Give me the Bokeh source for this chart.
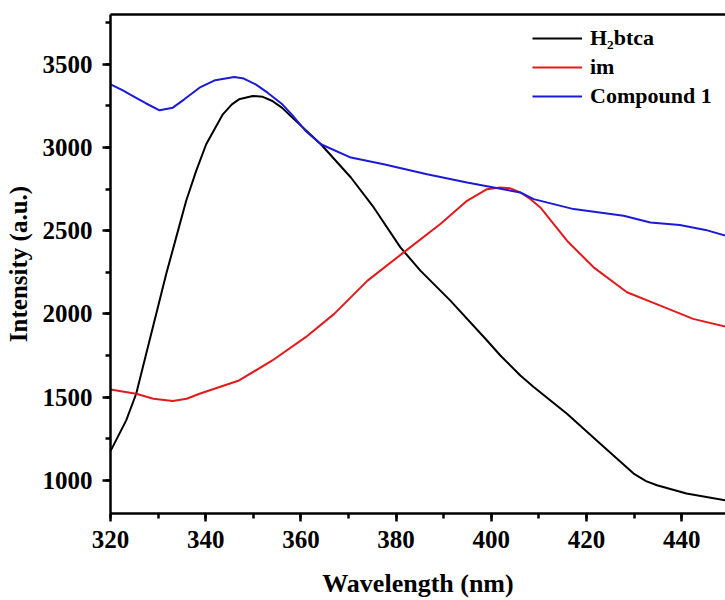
from bokeh.plotting import figure
from bokeh.models import LinearAxis, SingleIntervalTicker, Range1d, Legend, LegendItem
from bokeh.embed import file_html
from bokeh.resources import INLINE

# H2btca
wl_h2 = [320, 323.3, 325.4, 327.5, 329.6, 331.7, 333.8, 335.9, 338, 340.1, 343.6, 345.5, 347, 349.9,
         352, 354, 356, 358.2, 364.2, 370.5, 375.3, 380.9, 385.1, 391.4, 399.1, 401.9, 406.1, 408.9,
         415.9, 422.9, 429.9, 432.5, 434.8, 441, 449.5]
int_h2 = [1175, 1360, 1520, 1760, 2000, 2240, 2460, 2680, 2860, 3020, 3200, 3260, 3290, 3310,
          3305, 3280, 3240, 3180, 3020, 2820, 2640, 2400, 2260, 2080, 1840, 1750, 1630, 1560,
          1400, 1220, 1040, 995, 970, 920, 878]

# im
wl_im = [320, 325.4, 329, 333.1, 336, 338.7, 347, 354, 361, 367, 374, 381.6, 389.3, 394.9, 399.1,
         401.9, 404, 406.1, 408, 410.3, 415.9, 421.5, 428.5, 435.5, 442.4, 449.5]
int_im = [1545, 1520, 1490, 1476, 1490, 1520, 1600, 1720, 1860, 2000, 2200, 2370, 2540, 2680, 2750,
          2760, 2755, 2730, 2695, 2640, 2440, 2280, 2130, 2050, 1970, 1922]

# Compound 1
wl_c1 = [320, 322.5, 325, 327.5, 330.3, 333.1, 335.5, 338.7, 342, 346, 348, 350.5, 353, 356.1,
         358.5, 361, 364.2, 370.5, 377.4, 386.5, 394.9, 400.5, 406.1, 408.9, 417.3, 427.8, 433.4,
         439.6, 445, 449.5]
int_c1 = [3380, 3345, 3305, 3265, 3224, 3240, 3290, 3360, 3405, 3424, 3415, 3380, 3330, 3260,
          3185, 3100, 3020, 2940, 2900, 2840, 2790, 2760, 2730, 2690, 2630, 2590, 2550,
          2535, 2505, 2468]

series_names = ["H\u2082btca", "im", "Compound 1"]
series_colors = ["#000000", "#e31a1c", "#1a1ad8"]

FONT = "Liberation Serif"

p = figure(width=725, height=600, output_backend="svg", toolbar_location=None,
           x_range=Range1d(320, 449.2), y_range=Range1d(800, 3800),
           min_border_left=110, min_border_right=0, min_border_top=14, min_border_bottom=86,
           x_axis_label="Wavelength (nm)", y_axis_label="Intensity (a.u.)")
p.outline_line_color = None
p.grid.visible = False
p.background_fill_color = "white"
p.border_fill_color = "white"

r1 = p.line(wl_h2, int_h2, line_color=series_colors[0], line_width=2)
r2 = p.line(wl_im, int_im, line_color=series_colors[1], line_width=2)
r3 = p.line(wl_c1, int_c1, line_color=series_colors[2], line_width=2)

p.xaxis.ticker = SingleIntervalTicker(interval=20, num_minor_ticks=2)
p.yaxis.ticker = SingleIntervalTicker(interval=500, num_minor_ticks=2)

for ax in [p.xaxis[0], p.yaxis[0]]:
    ax.axis_line_width = 2.5
    ax.major_tick_line_width = 2.5
    ax.minor_tick_line_width = 2.5
    ax.major_tick_out = 8
    ax.major_tick_in = 0
    ax.minor_tick_out = 5
    ax.minor_tick_in = 0
    ax.major_label_text_font = FONT
    ax.major_label_text_font_style = "bold"
    ax.major_label_text_font_size = "25px"
    ax.major_label_text_color = "black"
    ax.axis_label_text_font = FONT
    ax.axis_label_text_font_style = "bold"
    ax.axis_label_text_color = "black"
p.xaxis.axis_label_text_font_size = "26px"
p.yaxis.axis_label_text_font_size = "25px"
p.xaxis.major_label_standoff = 9
p.xaxis.axis_label_standoff = 18
p.yaxis.major_label_standoff = 10
p.yaxis.axis_label_standoff = 8

top = LinearAxis(axis_line_width=2.5, major_tick_line_color=None, minor_tick_line_color=None,
                 major_label_text_font_size="0px", major_label_text_color=None)
top.ticker = SingleIntervalTicker(interval=20, num_minor_ticks=0)
p.add_layout(top, "above")

legend = Legend(items=[LegendItem(label=series_names[0], renderers=[r1]),
                       LegendItem(label=series_names[1], renderers=[r2]),
                       LegendItem(label=series_names[2], renderers=[r3])],
                location=(422, 404))
legend.background_fill_alpha = 0
legend.border_line_color = None
legend.padding = 0
legend.margin = 0
legend.glyph_width = 50
legend.glyph_height = 22
legend.label_height = 22
legend.spacing = 3
legend.label_standoff = 8
legend.label_text_font = FONT
legend.label_text_font_style = "bold"
legend.label_text_font_size = "22px"
legend.label_text_color = "black"
p.add_layout(legend)

open("out.html", "w").write(file_html(p, INLINE))
